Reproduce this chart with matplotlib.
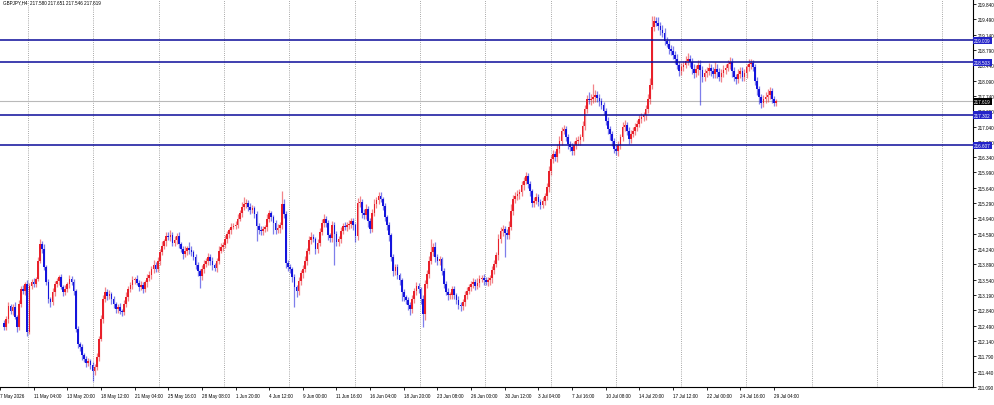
import matplotlib
matplotlib.use('Agg')
import matplotlib.pyplot as plt
import numpy as np

# H4 closes (open of each bar = previous close)
first_open = 212.55
closes = [
    212.46, 212.64, 212.94, 212.83, 212.92, 212.69, 212.46, 212.99, 213.33, 213.28, 213.44, 212.35, 213.40, 213.49, 213.44, 213.56,
    213.97, 214.36, 214.24, 213.83, 213.49, 213.10, 213.03, 213.26, 213.44, 213.51, 213.60, 213.37, 213.26, 213.33, 213.44, 213.56,
    213.49, 213.28, 212.41, 212.07, 212.00, 211.82, 211.73, 211.64, 211.68, 211.59, 211.45, 211.55, 211.77, 212.19, 212.64, 213.10,
    213.26, 213.17, 213.22, 213.10, 212.99, 212.87, 212.92, 212.83, 212.80, 212.99, 213.15, 213.33, 213.42, 213.53, 213.56, 213.47,
    213.37, 213.42, 213.33, 213.49, 213.58, 213.65, 213.79, 213.88, 213.79, 213.97, 214.17, 214.31, 214.42, 214.54, 214.52, 214.56,
    214.38, 214.45, 214.54, 214.36, 214.24, 214.13, 214.20, 214.26, 214.22, 214.17, 214.06, 213.88, 213.74, 213.63, 213.79, 213.90,
    213.97, 214.06, 213.97, 213.88, 213.81, 213.97, 214.20, 214.29, 214.33, 214.47, 214.58, 214.68, 214.75, 214.77, 214.79, 214.93,
    215.06, 215.20, 215.27, 215.29, 215.20, 215.13, 215.18, 215.04, 214.77, 214.68, 214.65, 214.70, 214.75, 214.93, 215.06, 214.97,
    214.84, 214.68, 214.72, 214.79, 215.27, 215.04, 213.92, 213.83, 213.79, 213.60, 213.37, 213.28, 213.51, 213.69, 213.79, 213.97,
    214.20, 214.45, 214.52, 214.47, 214.24, 214.38, 214.63, 214.84, 214.93, 214.84, 214.56, 214.49, 214.79, 214.58, 214.40, 214.47,
    214.65, 214.77, 214.75, 214.79, 214.81, 214.88, 214.79, 214.54, 215.29, 215.32, 215.06, 215.02, 215.16, 214.88, 214.70, 215.06,
    215.27, 215.36, 215.45, 215.38, 215.22, 214.97, 214.79, 214.56, 214.06, 213.74, 213.83, 213.65, 213.53, 213.26, 213.15, 213.08,
    212.96, 212.87, 213.10, 213.28, 213.40, 213.33, 213.10, 212.76, 213.44, 213.67, 213.97, 214.17, 214.29, 214.06, 213.97, 214.01,
    213.74, 213.44, 213.26, 213.19, 213.19, 213.33, 213.19, 213.08, 212.96, 212.94, 213.03, 213.19, 213.28, 213.37, 213.44, 213.49,
    213.40, 213.47, 213.56, 213.58, 213.53, 213.49, 213.53, 213.58, 213.76, 213.90, 214.10, 214.47, 214.65, 214.70, 214.61, 214.56,
    214.75, 215.11, 215.38, 215.45, 215.50, 215.54, 215.70, 215.80, 215.91, 215.73, 215.57, 215.29, 215.34, 215.43, 215.32, 215.25,
    215.34, 215.45, 215.66, 216.02, 216.30, 216.41, 216.34, 216.53, 216.71, 216.94, 216.98, 216.80, 216.64, 216.57, 216.48, 216.62,
    216.71, 216.73, 216.80, 217.05, 217.44, 217.67, 217.65, 217.67, 217.71, 217.76, 217.69, 217.62, 217.53, 217.39, 217.17, 216.98,
    216.87, 216.71, 216.53, 216.48, 216.62, 216.80, 217.03, 217.08, 216.94, 216.76, 216.87, 216.94, 217.03, 217.10, 217.21, 217.26,
    217.30, 217.44, 217.67, 217.99, 219.31, 219.45, 219.41, 219.34, 219.25, 219.18, 219.00, 218.93, 218.81, 218.77, 218.67, 218.58,
    218.45, 218.31, 218.40, 218.45, 218.54, 218.58, 218.51, 218.36, 218.26, 218.36, 218.45, 218.33, 218.17, 218.26, 218.31, 218.38,
    218.31, 218.24, 218.36, 218.29, 218.17, 218.26, 218.33, 218.38, 218.47, 218.51, 218.31, 218.17, 218.13, 218.24, 218.31, 218.17,
    218.26, 218.40, 218.47, 218.49, 218.40, 218.08, 217.90, 217.71, 217.58, 217.67, 217.71, 217.76, 217.85, 217.67, 217.58, 217.62,
]

# wick lengths above / below the body, in 0.01 units
upper_wick = [
    6, 8, 10, 5, 7, 12, 4, 9, 6, 8, 5, 10, 7, 6, 9, 5,
    8, 10, 6, 12, 5, 7, 4, 9, 6, 8, 5, 7, 6, 9, 5, 8,
    6, 7, 5, 8, 4, 6, 5, 7, 6, 5, 8, 6, 9, 7, 10, 8,
    12, 6, 8, 5, 7, 4, 6, 9, 5, 8, 10, 6, 7, 9, 5, 8,
    6, 9, 7, 5, 8, 10, 6, 12, 7, 9, 8, 11, 6, 10, 8, 12,
    7, 9, 6, 8, 5, 7, 10, 6, 14, 8, 5, 7, 6, 4, 8, 10,
    7, 9, 6, 8, 5, 7, 10, 8, 6, 9, 7, 5, 8, 6, 9, 10,
    8, 12, 15, 10, 7, 9, 6, 5, 8, 6, 9, 7, 5, 10, 8, 6,
    5, 7, 9, 6, 30, 12, 8, 6, 7, 5, 8, 6, 9, 7, 8, 10,
    6, 9, 12, 7, 5, 10, 8, 9, 12, 6, 7, 5, 10, 6, 8, 7,
    9, 6, 8, 7, 10, 6, 8, 5, 12, 14, 7, 9, 10, 6, 8, 9,
    12, 8, 10, 9, 6, 7, 5, 6, 5, 7, 6, 8, 5, 6, 7, 5,
    6, 8, 10, 7, 9, 6, 5, 8, 10, 9, 12, 30, 8, 10, 7, 6,
    5, 7, 6, 9, 8, 6, 7, 5, 8, 6, 7, 9, 10, 8, 6, 9,
    7, 10, 8, 6, 9, 7, 8, 6, 10, 9, 8, 12, 10, 9, 7, 8,
    12, 15, 10, 9, 8, 7, 10, 9, 8, 6, 7, 5, 8, 9, 6, 7,
    9, 8, 10, 12, 9, 10, 8, 12, 11, 9, 9, 7, 6, 8, 10, 9,
    8, 10, 7, 12, 10, 9, 15, 11, 30, 12, 9, 10, 8, 6, 7, 9,
    8, 6, 7, 9, 10, 8, 12, 10, 7, 9, 8, 10, 9, 8, 10, 9,
    8, 10, 12, 15, 26, 12, 10, 14, 8, 10, 12, 9, 8, 10, 12, 9,
    11, 9, 10, 8, 12, 14, 10, 9, 11, 8, 12, 10, 9, 10, 8, 12,
    9, 10, 15, 11, 8, 10, 12, 9, 8, 11, 10, 9, 8, 12, 10, 9,
    10, 8, 12, 9, 8, 6, 9, 7, 8, 10, 12, 14, 9, 8, 7, 6,
]
lower_wick = [
    8, 6, 9, 7, 10, 5, 12, 6, 8, 7, 9, 10, 5, 8, 6, 7,
    6, 5, 9, 7, 8, 10, 12, 6, 9, 7, 8, 5, 10, 7, 6, 8,
    7, 9, 6, 10, 8, 12, 7, 9, 8, 10, 22, 9, 7, 8, 6, 10,
    7, 9, 8, 12, 10, 8, 9, 7, 10, 6, 8, 9, 7, 10, 8, 6,
    9, 7, 10, 8, 12, 6, 9, 10, 8, 7, 9, 6, 8, 10, 7, 9,
    8, 6, 9, 10, 7, 12, 8, 9, 10, 8, 7, 9, 12, 28, 10, 9,
    8, 10, 9, 12, 7, 9, 8, 6, 10, 7, 9, 8, 10, 6, 8, 7,
    6, 8, 7, 9, 10, 8, 6, 9, 35, 10, 8, 9, 7, 10, 8, 9,
    25, 10, 8, 12, 9, 10, 12, 10, 10, 12, 45, 14, 9, 8, 10, 7,
    9, 8, 10, 7, 12, 9, 8, 6, 10, 9, 12, 8, 10, 70, 10, 8,
    9, 7, 8, 10, 9, 8, 12, 15, 10, 8, 12, 9, 10, 14, 9, 8,
    7, 9, 8, 6, 9, 10, 12, 14, 10, 12, 9, 10, 12, 20, 10, 9,
    12, 14, 10, 9, 8, 10, 12, 30, 14, 10, 9, 8, 10, 12, 9, 10,
    9, 10, 8, 12, 9, 10, 8, 9, 10, 12, 9, 10, 8, 7, 9, 8,
    10, 8, 9, 7, 10, 8, 9, 10, 12, 9, 8, 10, 9, 12, 55, 10,
    9, 8, 10, 9, 8, 12, 9, 10, 8, 9, 12, 10, 9, 8, 10, 9,
    8, 10, 9, 12, 8, 10, 9, 12, 10, 9, 8, 10, 12, 9, 10, 8,
    10, 9, 12, 10, 8, 9, 10, 12, 9, 10, 8, 12, 10, 9, 10, 12,
    14, 12, 10, 9, 12, 10, 8, 9, 10, 12, 9, 8, 10, 9, 8, 10,
    9, 10, 8, 12, 10, 9, 8, 10, 12, 9, 10, 8, 12, 10, 9, 12,
    10, 12, 9, 10, 8, 9, 10, 12, 10, 9, 14, 80, 12, 10, 9, 10,
    12, 10, 9, 14, 10, 12, 9, 10, 8, 12, 14, 10, 12, 9, 10, 8,
    9, 10, 8, 12, 10, 9, 14, 16, 12, 10, 9, 12, 10, 9, 8, 6,
]

levels = [219.009, 218.503, 217.302, 216.607]
last_price = 217.619
header = 'GBPJPY,H4  217.580 217.651 217.546 217.619'

price_ticks = [219.84, 219.49, 219.14, 218.79, 218.44, 218.09, 217.74, 217.39, 217.04,
               216.69, 216.34, 215.99, 215.64, 215.29, 214.94, 214.59, 214.24, 213.89,
               213.54, 213.19, 212.84, 212.49, 212.14, 211.79, 211.44, 211.09]

time_labels = ['7 May 2026', '11 May 04:00', '13 May 20:00', '18 May 12:00', '21 May 04:00',
               '25 May 16:00', '28 May 08:00', '1 Jun 20:00', '4 Jun 12:00', '9 Jun 00:00',
               '11 Jun 16:00', '16 Jun 04:00', '18 Jun 20:00', '23 Jun 08:00', '26 Jun 00:00',
               '30 Jun 12:00', '3 Jul 04:00', '7 Jul 16:00', '10 Jul 08:00', '14 Jul 20:00',
               '17 Jul 12:00', '22 Jul 00:00', '24 Jul 16:00', '29 Jul 04:00']

UP = '#e8202a'
DOWN = '#1414dc'
FONT = 'Liberation Sans'

closes = np.array(closes)
opens = np.concatenate([[first_open], closes[:-1]])
top = np.maximum(opens, closes)
bot = np.minimum(opens, closes)
highs = top + np.array(upper_wick) / 100
lows = bot - np.array(lower_wick) / 100
idx = np.arange(len(closes))
bull = closes >= opens
cols = np.where(bull, UP, DOWN)

fig = plt.figure(figsize=(9.95, 4.06), dpi=100)
ax = fig.add_axes([0, 18 / 406, 973 / 995, 388 / 406])

# dotted vertical grid
for gx in np.arange(11.4, 470, 31.05):
    ax.axvline(gx, color='#8c8c8c', lw=0.6, ls=(0, (1, 1.6)), zorder=0)

ax.vlines(idx, lows, highs, colors=cols, lw=0.9, alpha=0.55, zorder=2)
ax.bar(idx, np.maximum(top - bot, 0.012), bottom=bot, width=0.8, color=cols,
       linewidth=0, zorder=3)

for lv in levels:
    ax.axhline(lv, color='#0c0c9a', lw=1.1, zorder=4)
ax.axhline(last_price, color='#b9b9b9', lw=0.8, zorder=1)

ax.set_xlim(-0.47, 460.66)
ax.set_ylim(211.088, 219.954)

for s in ['left', 'top']:
    ax.spines[s].set_visible(False)
for s in ['right', 'bottom']:
    ax.spines[s].set_linewidth(0.8)

ax.yaxis.tick_right()
ax.set_yticks(price_ticks)
ax.set_yticklabels(['%.3f' % p for p in price_ticks], fontsize=3.3, family=FONT)
ax.tick_params(axis='y', length=2.5, width=0.6, pad=1.2)

label_pos = [-2 + 16 * k for k in range(len(time_labels))]
ax.set_xticks(label_pos)
ax.set_xticklabels(time_labels, fontsize=3.3, family=FONT, ha='left')
ax.tick_params(axis='x', length=2.5, width=0.6, pad=1.5)

# coloured price tags on the right scale
ytr = ax.get_yaxis_transform()
for lv in levels:
    ax.text(1.001, lv, '%.3f' % lv, transform=ytr, ha='left', va='center',
            fontsize=3.3, family=FONT, color='white', zorder=6, clip_on=False,
            bbox=dict(boxstyle='square,pad=0.25', fc='#2323c8', ec='none'))
ax.text(1.001, last_price, '%.3f' % last_price, transform=ytr, ha='left', va='center',
        fontsize=3.3, family=FONT, color='white', zorder=6, clip_on=False,
        bbox=dict(boxstyle='square,pad=0.25', fc='black', ec='none'))

fig.text(0.003, 1 - 0.5 / 406, header, fontsize=3.3, family=FONT, va='top', ha='left')

fig.savefig('out.png', dpi=100)
